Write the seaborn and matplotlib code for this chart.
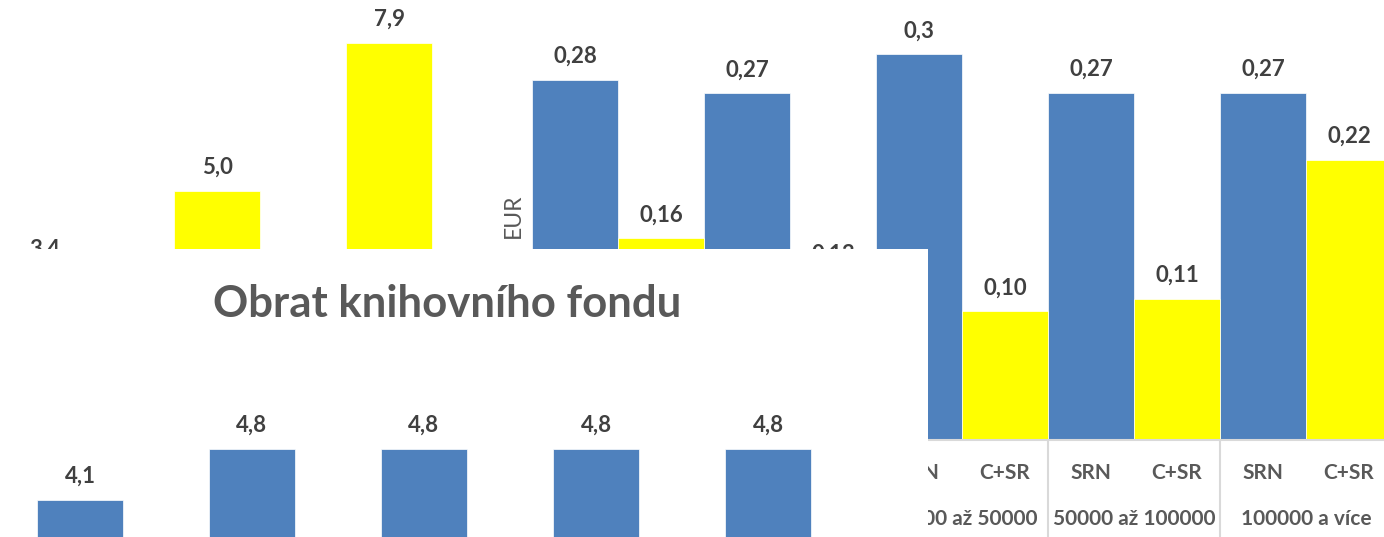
import numpy as np
import pandas as pd
import matplotlib
matplotlib.use("Agg")
import matplotlib.pyplot as plt
import matplotlib.transforms as mtransforms
import seaborn as sns

# ---------------- data ----------------
# top-left fragment (yellow bars)
tl_categories = ["k1", "k2", "k3"]
tl_values = [3.4, 5.0, 7.9]
tl_labels = ["3,4", "5,0", "7,9"]

# top-middle fragment (EUR, SRN vs C+SR)
series_names = ["SRN", "C+SR"]
mid_groups = ["skupina 1", "skupina 2"]
mid_srn = [0.28, 0.27]
mid_csr = [0.16, 0.13]
mid_srn_labels = ["0,28", "0,27"]
mid_csr_labels = ["0,16", "0,13"]

# right fragment (EUR by library size)
right_groups = ["10000 až 50000", "50000 až 100000", "100000 a více"]
right_srn = [0.30, 0.27, 0.27]
right_csr = [0.10, 0.11, 0.218]
right_srn_labels = ["0,3", "0,27", "0,27"]
right_csr_labels = ["0,10", "0,11", "0,22"]

# bottom-left fragment: Obrat knihovního fondu
ob_title = "Obrat knihovního fondu"
ob_categories = ["o1", "o2", "o3", "o4", "o5"]
ob_values = [4.1, 4.8, 4.8, 4.8, 4.8]
ob_labels = ["4,1", "4,8", "4,8", "4,8", "4,8"]

# ---------------- style ----------------
sns.set_theme(style="white")
plt.rcParams["font.family"] = ["Lato", "DejaVu Sans"]

BLUE = "#4F81BD"
YELLOW = "#FFFF00"
VAL = "#404040"
GRAY = "#595959"
LINE = "#D9D9D9"

W, H = 1384, 537
fig = plt.figure(figsize=(W / 100, H / 100), dpi=100)


def px_rect(x0, y0, x1, y1):
    return [x0 / W, 1 - y1 / H, (x1 - x0) / W, (y1 - y0) / H]


def clean(ax, keep_bottom=False):
    ax.set_xlabel("")
    ax.set_ylabel("")
    ax.set_yticks([])
    ax.set_xticks([])
    for name, s in ax.spines.items():
        s.set_visible(keep_bottom and name == "bottom")


def label(ax, x, v, text):
    ax.annotate(text, xy=(x, v), xytext=(0, 17), textcoords="offset pixels",
                ha="center", va="baseline", fontsize=16, fontweight="bold",
                color=VAL, annotation_clip=False)


# ---------- panel 1: top-left yellow bars ----------
ax1 = fig.add_axes(px_rect(0, 0, 495, 249))
ax1.set_zorder(1)
df1 = pd.DataFrame({"cat": tl_categories, "val": tl_values})
sns.barplot(data=df1, x="cat", y="val", color=YELLOW, saturation=1,
            width=0.5, ax=ax1, edgecolor="white", linewidth=0.5)
clean(ax1)
ax1.set_xlim(-0.2616, 2.616)
ax1.set_ylim(3.860, 8.740)
for i, (v, t) in enumerate(zip(tl_values, tl_labels)):
    label(ax1, i, v, t)

# ---------- panel 2: top-middle EUR ----------
ax2 = fig.add_axes(px_rect(495, 0, 876, 249))
ax2.set_zorder(5)
df2 = pd.DataFrame({
    "group": mid_groups * 2,
    "series": [series_names[0]] * len(mid_groups) + [series_names[1]] * len(mid_groups),
    "val": mid_srn + mid_csr,
})
sns.barplot(data=df2, x="group", y="val", hue="series", hue_order=series_names,
            palette=[BLUE, YELLOW], saturation=1, width=1.0, ax=ax2,
            legend=False, edgecolor="white", linewidth=0.5)
clean(ax2)
ax2.set_xlim(-0.715, 1.5)
ax2.set_ylim(0.152, 0.3406)
for i in range(len(mid_groups)):
    label(ax2, i - 0.25, mid_srn[i], mid_srn_labels[i])
    label(ax2, i + 0.25, mid_csr[i], mid_csr_labels[i])
ax2.text(0.047, 0.1325, "EUR", transform=ax2.transAxes, rotation=90,
         ha="center", va="center", fontsize=16.5, color=GRAY)

# ---------- panel 3: right EUR by size ----------
ax3 = fig.add_axes(px_rect(876, 0, 1384, 440))
ax3.set_zorder(2)
df3 = pd.DataFrame({
    "group": right_groups * 2,
    "series": [series_names[0]] * len(right_groups) + [series_names[1]] * len(right_groups),
    "val": right_srn + right_csr,
})
sns.barplot(data=df3, x="group", y="val", hue="series", hue_order=series_names,
            palette=[BLUE, YELLOW], saturation=1, width=1.0, ax=ax3,
            legend=False, edgecolor="white", linewidth=0.5)
clean(ax3, keep_bottom=True)
ax3.spines["bottom"].set_color(LINE)
ax3.spines["bottom"].set_linewidth(1.5)
ax3.set_xlim(-0.5, 2.453)
ax3.set_ylim(0, 0.3424)
for i in range(len(right_groups)):
    label(ax3, i - 0.25, right_srn[i], right_srn_labels[i])
    label(ax3, i + 0.25, right_csr[i], right_csr_labels[i])
trans = mtransforms.blended_transform_factory(ax3.transData, ax3.transAxes)
for i, g in enumerate(right_groups):
    for k, s in enumerate(series_names):
        ax3.text(i - 0.25 + 0.5 * k, -39 / 440, s, transform=trans, ha="center",
                 va="baseline", fontsize=15, fontweight="bold", color=GRAY)
    ax3.text(i, -85 / 440, g, transform=trans, ha="center", va="baseline",
             fontsize=15, fontweight="bold", color=GRAY)
for xb in [-0.5, 0.5, 1.5, 2.5]:
    ax3.plot([xb, xb], [0, -97 / 440], transform=trans, color=LINE, lw=1.5,
             clip_on=False)

# ---------- panel 4: bottom-left Obrat knihovního fondu ----------
ax4 = fig.add_axes(px_rect(0, 249, 928, 537))
ax4.set_zorder(10)
ax4.set_facecolor("white")
df4 = pd.DataFrame({"cat": ob_categories, "val": ob_values})
sns.barplot(data=df4, x="cat", y="val", color=BLUE, saturation=1,
            width=0.5, ax=ax4, edgecolor="white", linewidth=0.5)
clean(ax4)
ax4.set_xlim(-0.465, 4.93)
ax4.set_ylim(3.593, 7.543)
for i, (v, t) in enumerate(zip(ob_values, ob_labels)):
    label(ax4, i, v, t)
ax4.text(0.4817, 0.81, ob_title, transform=ax4.transAxes, ha="center",
         va="center", fontsize=31.5, fontweight="bold", color=GRAY)

fig.savefig("out.png", dpi=100, facecolor="white")
